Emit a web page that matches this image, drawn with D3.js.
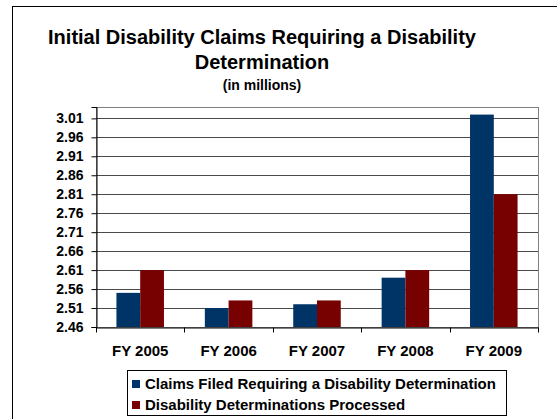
<!DOCTYPE html>
<html>
<head>
<meta charset="utf-8">
<script src="https://cdn.jsdelivr.net/npm/d3@7"></script>
<style>
  body { margin: 0; background: #fff; }
  svg { display: block; font-family: "Liberation Sans", Arial, sans-serif; }
</style>
</head>
<body>
<div id="chart"></div>
<script>
// data (millions)
const years = ["FY 2005", "FY 2006", "FY 2007", "FY 2008", "FY 2009"];
const seriesNames = [
  "Claims Filed Requiring a Disability Determination",
  "Disability Determinations Processed"
];
const claimsFiled = [2.55, 2.51, 2.52, 2.59, 3.02];
const determinations = [2.61, 2.53, 2.53, 2.61, 2.81];
const yTicks = [2.46, 2.51, 2.56, 2.61, 2.66, 2.71, 2.76, 2.81, 2.86, 2.91, 2.96, 3.01];

const width = 557, height = 419;
const marginLeft = 96, marginRight = 19, marginTop = 107, marginBottom = 92;
const colors = ["#003366", "#770000"];

const svg = d3.select("#chart")
  .append("svg")
  .attr("width", width)
  .attr("height", height)
  .attr("viewBox", [0, 0, width, height]);

// outer frame (runs off the right/bottom edges)
svg.append("rect")
  .attr("x", 12.5).attr("y", 6.5)
  .attr("width", 600).attr("height", 500)
  .attr("fill", "none").attr("stroke", "#000").attr("stroke-width", 1);

// title
const title = svg.append("g").attr("text-anchor", "middle").attr("font-weight", "bold");
title.append("text").attr("x", 262).attr("y", 44).attr("font-size", 20)
  .text("Initial Disability Claims Requiring a Disability");
title.append("text").attr("x", 262).attr("y", 69).attr("font-size", 20)
  .text("Determination");
title.append("text").attr("x", 262).attr("y", 90).attr("font-size", 14)
  .text("(in millions)");

// scales
const x0 = d3.scaleBand()
  .domain(years)
  .range([marginLeft, width - marginRight]);
const x1 = d3.scaleBand()
  .domain([0, 1])
  .range([0, x0.bandwidth()])
  .paddingOuter(0.86)
  .paddingInner(0);
const y = d3.scaleLinear()
  .domain([2.46, 3.04])
  .range([height - marginBottom, marginTop]);

// plot frame (top/right grey)
svg.append("rect")
  .attr("x", marginLeft + 0.5).attr("y", marginTop + 0.5)
  .attr("width", width - marginRight - marginLeft)
  .attr("height", y(2.46) - marginTop)
  .attr("fill", "none").attr("stroke", "#808080");

// gridlines
svg.append("g")
  .selectAll("line")
  .data(yTicks.slice(1))
  .join("line")
  .attr("x1", marginLeft).attr("x2", width - marginRight)
  .attr("y1", d => Math.round(y(d)) + 0.5)
  .attr("y2", d => Math.round(y(d)) + 0.5)
  .attr("stroke", "#4a4a4a");

// bars
const groups = svg.append("g")
  .selectAll("g")
  .data(years.map((yr, i) => ({ yr, vals: [claimsFiled[i], determinations[i]] })))
  .join("g")
  .attr("transform", d => `translate(${x0(d.yr)},0)`);

groups.selectAll("rect")
  .data(d => d.vals.map((v, k) => ({ v, k })))
  .join("rect")
  .attr("x", d => x1(d.k))
  .attr("width", x1.bandwidth())
  .attr("y", d => y(d.v))
  .attr("height", d => y(2.46) - y(d.v))
  .attr("fill", d => colors[d.k]);

// y axis
svg.append("g")
  .attr("transform", `translate(${marginLeft + 0.5},0)`)
  .call(d3.axisLeft(y).tickValues(yTicks).tickFormat(d3.format(".2f")).tickSize(5).tickPadding(8))
  .call(g => g.select(".domain").attr("stroke", "#000"))
  .call(g => g.selectAll(".tick text")
    .attr("font-size", 14).attr("font-weight", "bold").attr("fill", "#000")
    .attr("font-family", "Liberation Sans, Arial, sans-serif"));

// x axis
const xAxisG = svg.append("g")
  .attr("transform", `translate(0,${Math.round(y(2.46)) + 0.5})`)
  .call(d3.axisBottom(x0).tickSize(0).tickPadding(18).tickSizeOuter(0))
  .call(g => g.select(".domain").attr("stroke", "#000"))
  .call(g => g.selectAll(".tick text")
    .attr("font-size", 15).attr("font-weight", "bold").attr("fill", "#000")
    .attr("font-family", "Liberation Sans, Arial, sans-serif"));

// category separator ticks
xAxisG.append("g")
  .selectAll("line")
  .data(years.map((d, i) => i).concat([years.length]))
  .join("line")
  .attr("x1", i => Math.round(x0.range()[0] + i * x0.step()) + 0.5)
  .attr("x2", i => Math.round(x0.range()[0] + i * x0.step()) + 0.5)
  .attr("y1", 0).attr("y2", 5)
  .attr("stroke", "#000");

// legend
const legend = svg.append("g").attr("transform", "translate(127,370)");
legend.append("rect")
  .attr("x", 0.5).attr("y", 0.5)
  .attr("width", 379).attr("height", 45)
  .attr("fill", "#fff").attr("stroke", "#000");
const items = legend.selectAll("g.item")
  .data(seriesNames)
  .join("g")
  .attr("class", "item")
  .attr("transform", (d, i) => `translate(5,${7 + i * 21})`);
items.append("rect")
  .attr("width", 8).attr("height", 8).attr("y", 3)
  .attr("fill", (d, i) => colors[i]);
items.append("text")
  .attr("x", 13).attr("y", 12)
  .attr("font-size", 15).attr("font-weight", "bold")
  .text(d => d);
</script>
</body>
</html>
